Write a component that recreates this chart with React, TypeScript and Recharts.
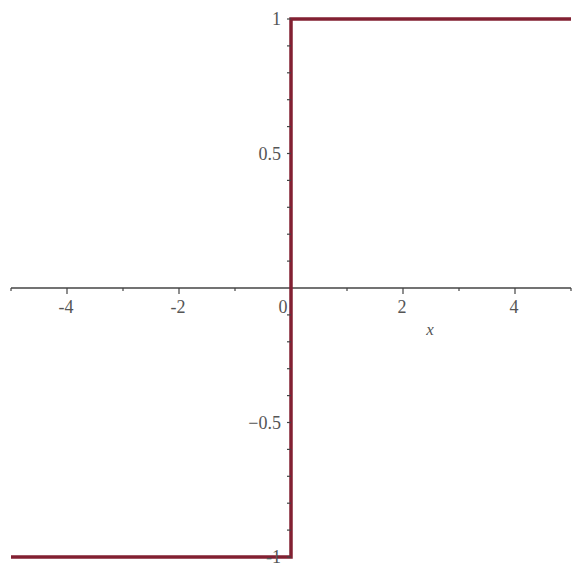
import React from 'react';
import { LineChart, Line, XAxis, YAxis, ReferenceLine, ReferenceDot } from 'recharts';

// sign(x) on [-5, 5]
const xValues = [-5, 0, 0, 5];
const yValues = [-1, -1, 1, 1];

const xTicks = [-5, -4, -3, -2, -1, 1, 2, 3, 4, 5];
const xTickLabels: Record<number, string> = { [-4]: '-4', [-2]: '-2', 2: '2', 4: '4' };
const yTicks = [-1, -0.9, -0.8, -0.7, -0.6, -0.5, -0.4, -0.3, -0.2, -0.1, 0.1, 0.2, 0.3, 0.4, 0.5, 0.6, 0.7, 0.8, 0.9, 1];
const yTickLabels: Record<string, string> = { '-1': '-1', '-0.5': '\u22120.5', '0.5': '0.5', '1': '1' };

const data = xValues.map((x, i) => ({ x, y: yValues[i] }));

const axisColor = '#444';
const labelColor = '#555';
const textStyle = { fontFamily: "'Liberation Serif', 'Times New Roman', serif" };

const XTick = (props: any) => {
    const { cx, cy, value } = props;
    const label = xTickLabels[value];
    return (
        <g>
            <line x1={cx} y1={cy} x2={cx} y2={cy + (label ? 6 : 3)} stroke={axisColor} strokeWidth={1.2} />
            {label && (
                <text x={cx - 1} y={cy + 25} textAnchor="middle" fontSize={18} fill={labelColor} style={textStyle}>
                    {label}
                </text>
            )}
        </g>
    );
};

const YTick = (props: any) => {
    const { cx, cy, value } = props;
    const label = yTickLabels[String(value)];
    return (
        <g>
            <line x1={cx - 4} y1={cy} x2={cx} y2={cy} stroke={axisColor} strokeWidth={1.2} />
            {label && (
                <text x={cx - 10} y={cy + 6} textAnchor="end" fontSize={18} fill={labelColor} style={textStyle}>
                    {label}
                </text>
            )}
        </g>
    );
};

export default function App() {
    return (
        <div style={{ position: 'absolute', left: 0, top: 0, width: 574, height: 572, background: '#fff' }}>
            <LineChart width={574} height={572} data={data} margin={{ top: 19, right: 3, bottom: 15, left: 11 }}>
                <XAxis dataKey="x" type="number" domain={[-5, 5]} hide />
                <YAxis type="number" domain={[-1, 1]} hide />
                <ReferenceLine y={0} stroke={axisColor} strokeWidth={1.3} />
                <ReferenceLine x={0} stroke={axisColor} strokeWidth={1.3} />
                {xTicks.map((t) => (
                    <ReferenceDot key={`xt${t}`} x={t} y={0} r={0} shape={(p: any) => <XTick {...p} value={t} />} />
                ))}
                {yTicks.map((t) => (
                    <ReferenceDot key={`yt${t}`} x={0} y={t} r={0} shape={(p: any) => <YTick {...p} value={t} />} />
                ))}
                <ReferenceDot
                    x={0}
                    y={0}
                    r={0}
                    shape={(p: any) => (
                        <text x={p.cx - 8} y={p.cy + 25} textAnchor="middle" fontSize={18} fill={labelColor} style={textStyle}>
                            0
                        </text>
                    )}
                />
                <ReferenceDot
                    x={2.5}
                    y={0}
                    r={0}
                    shape={(p: any) => (
                        <text x={p.cx - 1} y={p.cy + 47} textAnchor="middle" fontSize={17} fontStyle="italic" fill={labelColor} style={textStyle}>
                            x
                        </text>
                    )}
                />
                <Line
                    type="linear"
                    dataKey="y"
                    stroke="#822032"
                    strokeWidth={3.5}
                    dot={false}
                    activeDot={false}
                    isAnimationActive={false}
                />
            </LineChart>
        </div>
    );
}
